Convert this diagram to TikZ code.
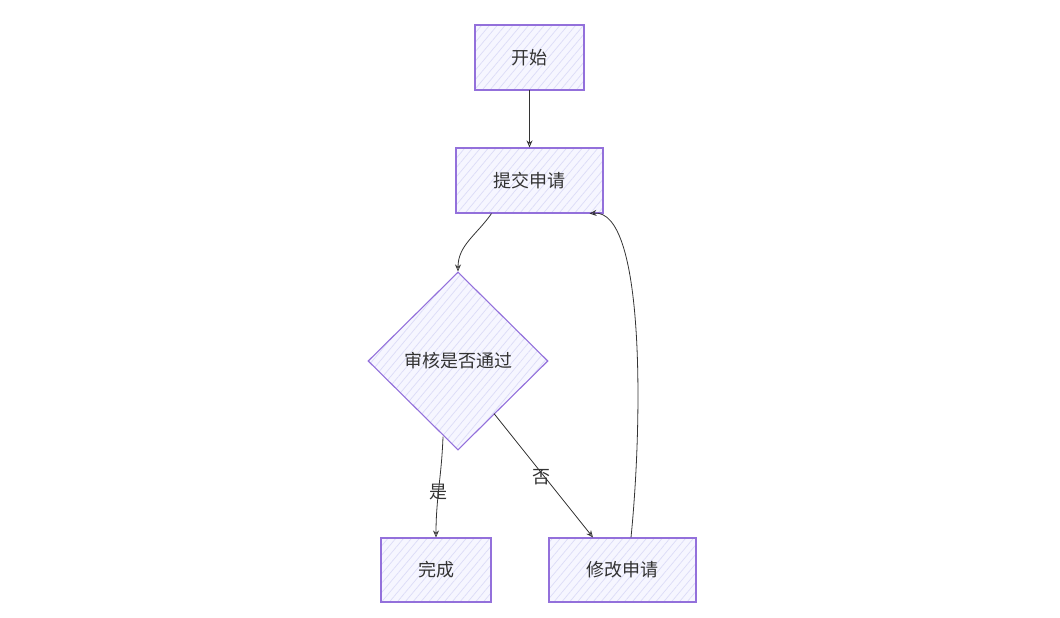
\documentclass[tikz,border=0pt]{standalone}
\usepackage{fontspec}
\setmainfont{Noto Sans CJK SC}
\usetikzlibrary{shapes.geometric,patterns.meta,arrows.meta}
\definecolor{boxline}{HTML}{9370DB}
\definecolor{boxfill}{HTML}{F6F6FF}
\definecolor{hatch}{HTML}{DCDCF7}
\definecolor{ink}{HTML}{333333}
\tikzset{
  base/.style={draw=boxline, line width=1.1pt, preaction={fill=boxfill}, pattern={Lines[angle=50,distance=6pt,line width=0.7pt]}, pattern color=hatch, text=ink, font=\fontsize{18}{21}\selectfont, inner sep=0pt},
  procbox/.style={base, rectangle, minimum height=65pt},
  decbox/.style={base, diamond, minimum width=180pt, minimum height=178pt},
  link/.style={draw=ink, line width=0.8pt, -{Stealth[length=7pt,width=6pt,open]}},
  lbl/.style={text=ink, font=\fontsize{18}{21}\selectfont, inner sep=1pt}
}
\begin{document}
\begin{tikzpicture}[x=1pt,y=-1pt]
\useasboundingbox (0,0) rectangle (1060,618);
\node[procbox, minimum width=109pt] (ks) at (529.5,57.5) {开始};
\node[procbox, minimum width=147pt] (tj) at (529.5,180.5) {提交申请};
\node[decbox] (sh) at (458,361) {审核是否通过};
\node[procbox, minimum width=110pt, minimum height=64pt] (wc) at (436,570) {完成};
\node[procbox, minimum width=147pt, minimum height=64pt] (xg) at (622.5,570) {修改申请};
\draw[link] (ks.south) -- (tj.north);
\draw[link] ([xshift=-38pt]tj.south) to[out=-125,in=90] (sh.north);
\draw[link] ([xshift=-15pt,yshift=14pt]sh.south) to[out=-92,in=90] node[lbl, pos=0.55] {是} (wc.north);
\draw[link] ([xshift=36pt,yshift=37pt]sh.south) -- node[lbl, pos=0.53, xshift=-5pt, yshift=2pt] {否} ([xshift=-29.5pt]xg.north);
\draw[link] ([xshift=8.5pt]xg.north) .. controls +(12,-120) and +(55,-5) .. ([xshift=60pt]tj.south);
\end{tikzpicture}
\end{document}
